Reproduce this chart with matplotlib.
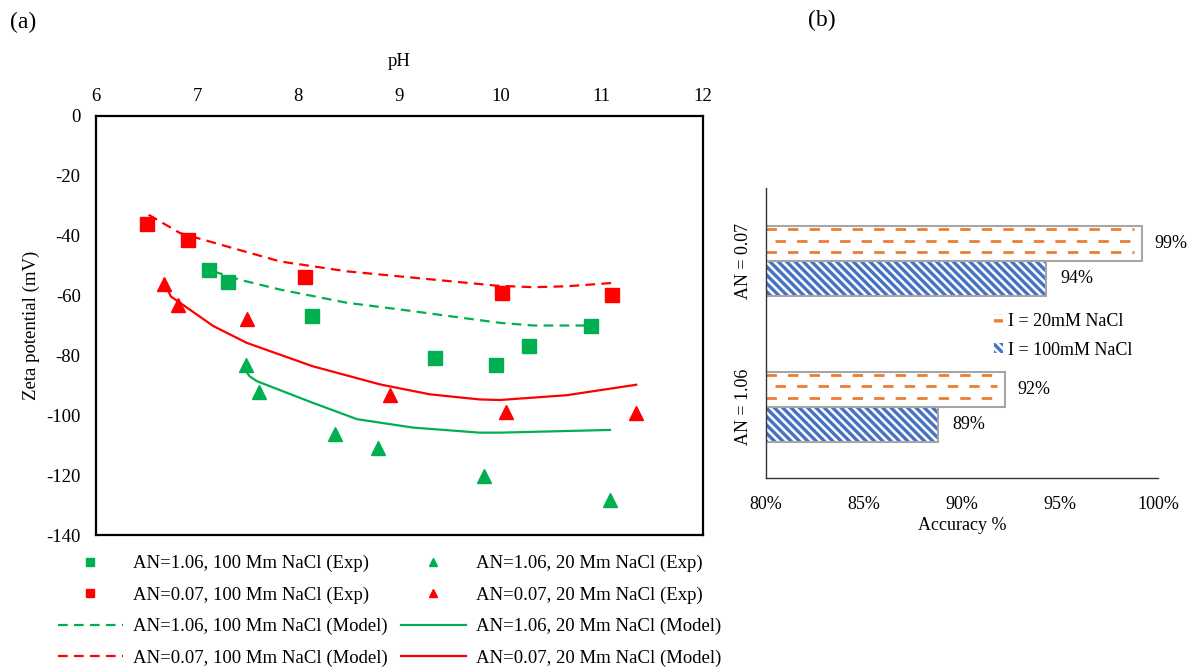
import matplotlib
matplotlib.use("Agg")
import matplotlib.pyplot as plt
from matplotlib.patches import Patch
from matplotlib.ticker import FuncFormatter

plt.rcParams['font.family'] = ['Liberation Serif', 'DejaVu Serif']
plt.rcParams['lines.scale_dashes'] = False
plt.rcParams['hatch.linewidth'] = 2.4
plt.rcParams['axes.unicode_minus'] = False

GREEN = "#00B050"
RED = "#FF0000"
BLUE = "#4472C4"
ORANGE = "#ED7D31"
GREY = "#A6A6A6"

# (a) experimental zeta potentials
ph_g100 = [7.12, 7.30, 8.14, 9.35, 9.95, 10.28, 10.89]
zp_g100 = [-51.6, -55.6, -66.9, -81.0, -83.2, -76.7, -70.2]
ph_r100 = [6.50, 6.91, 8.07, 10.01, 11.10]
zp_r100 = [-36.0, -41.3, -53.9, -59.1, -59.9]
ph_g20 = [7.48, 7.61, 8.36, 8.79, 9.84, 11.08]
zp_g20 = [-83.2, -92.2, -106.1, -110.8, -120.4, -128.2]
ph_r20 = [6.67, 6.81, 7.49, 8.91, 10.05, 11.34]
zp_r20 = [-56.1, -63.1, -67.8, -93.3, -98.8, -99.1]

# (a) model curves
ph_g100_m = [7.16, 7.42, 7.82, 8.48, 9.13, 9.50, 9.99, 10.32, 10.81, 10.87]
zp_g100_m = [-51.9, -54.7, -58.0, -62.4, -65.2, -66.9, -69.1, -70.0, -70.0, -70.0]
ph_r100_m = [6.52, 6.83, 7.16, 7.82, 8.48, 9.13, 9.96, 10.32, 10.65, 11.10]
zp_r100_m = [-33.0, -39.1, -42.3, -48.6, -51.9, -54.0, -56.7, -57.2, -56.9, -55.8]
ph_g20_m = [7.47, 7.52, 7.59, 8.14, 8.58, 9.13, 9.79, 9.99, 11.08]
zp_g20_m = [-84.7, -87.0, -88.6, -95.8, -101.3, -104.1, -105.8, -105.8, -104.9]
ph_r20_m = [6.70, 6.74, 6.83, 7.16, 7.49, 8.14, 8.81, 9.30, 9.79, 9.99, 10.65, 11.34]
zp_r20_m = [-57.4, -60.3, -62.4, -70.2, -75.8, -83.6, -89.7, -93.0, -94.7, -94.9, -93.3, -89.8]

# (b) accuracy
groups = ["AN = 1.06", "AN = 0.07"]
acc_20mM = [92.2, 99.2]
acc_100mM = [88.8, 94.3]

FS = 13.5

fig = plt.figure(figsize=(11.93, 6.70), dpi=100)

# ---------- (a) ----------
ax = fig.add_axes([96 / 1193, 1 - 535 / 670, 607 / 1193, 419 / 670])
dash = (0, (7, 4.5))
l1, = ax.plot(ph_g100_m, zp_g100_m, color=GREEN, lw=1.6, linestyle=dash)
l2, = ax.plot(ph_r100_m, zp_r100_m, color=RED, lw=1.6, linestyle=dash)
l3, = ax.plot(ph_g20_m, zp_g20_m, color=GREEN, lw=1.6)
l4, = ax.plot(ph_r20_m, zp_r20_m, color=RED, lw=1.6)
s1, = ax.plot(ph_g100, zp_g100, 's', color=GREEN, ms=10, ls='none')
s2, = ax.plot(ph_r100, zp_r100, 's', color=RED, ms=10, ls='none')
t1, = ax.plot(ph_g20, zp_g20, '^', color=GREEN, ms=9.5, ls='none')
t2, = ax.plot(ph_r20, zp_r20, '^', color=RED, ms=9.5, ls='none')

ax.set_xlim(6, 12)
ax.set_ylim(-140, 0)
ax.set_yticks(range(-140, 1, 20))
ax.xaxis.tick_top()
ax.xaxis.set_label_position('top')
ax.tick_params(length=0, labelsize=FS)
ax.tick_params(axis='y', pad=11)
ax.tick_params(axis='x', pad=8)
ax.set_xlabel("pH", fontsize=FS, labelpad=16)
ax.set_ylabel("Zeta potential (mV)", fontsize=FS)
ax.yaxis.set_label_coords(-0.092, 0.5)
for sp in ax.spines.values():
    sp.set_linewidth(1.6)
    sp.set_color('black')

handles = [s1, s2, l1, l2, t1, t2, l3, l4]
labels = ["AN=1.06, 100 Mm NaCl (Exp)", "AN=0.07, 100 Mm NaCl (Exp)",
          "AN=1.06, 100 Mm NaCl (Model)", "AN=0.07, 100 Mm NaCl (Model)",
          "AN=1.06, 20 Mm NaCl (Exp)", "AN=0.07, 20 Mm NaCl (Exp)",
          "AN=1.06, 20 Mm NaCl (Model)", "AN=0.07, 20 Mm NaCl (Model)"]
fig.legend(handles, labels, ncol=2, loc='upper left',
           bbox_to_anchor=(58 / 1193, 1 - 555 / 670), frameon=False,
           fontsize=FS, handlelength=3.45, handletextpad=0.55,
           columnspacing=0.7, labelspacing=0.76, markerscale=0.6,
           borderpad=0, borderaxespad=0)

fig.text(10 / 1193, 1 - 22 / 670, "(a)", fontsize=17, va='center')
fig.text(808 / 1193, 1 - 20 / 670, "(b)", fontsize=17, va='center')

# ---------- (b) ----------
ax2 = fig.add_axes([766 / 1193, 1 - 478 / 670, 392 / 1193, 290 / 670])
ypos = list(range(len(groups)))
h = 0.24
y20 = [y + h / 2 for y in ypos]
y100 = [y - h / 2 for y in ypos]

b20 = ax2.barh(y20, acc_20mM, height=h, color='white', edgecolor=GREY, lw=1.5)
b100 = ax2.barh(y100, acc_100mM, height=h, color='white', edgecolor=BLUE,
                hatch='\\\\\\\\', lw=0)
ax2.barh(y100, acc_100mM, height=h, fill=False, edgecolor=GREY, lw=1.5)

# orange dashes inside the 20 mM bars
for bar in b20:
    y0, bh = bar.get_y(), bar.get_height()
    x1 = bar.get_x() + bar.get_width()
    for frac, off in [(0.25, 0), (0.58, 9), (0.9, 0)]:
        ax2.hlines(y0 + frac * bh, 80, x1 - 0.4, colors=ORANGE, lw=2,
                   linestyles=[(off, (7.5, 8))])

for v, y in zip(acc_20mM, y20):
    ax2.annotate(f"{v:.0f}%", (v, y), xytext=(12, 0), textcoords='offset pixels',
                 va='center', ha='left', fontsize=FS - 0.5)
for v, y in zip(acc_100mM, y100):
    ax2.annotate(f"{v:.0f}%", (v, y), xytext=(14, 0), textcoords='offset pixels',
                 va='center', ha='left', fontsize=FS - 0.5)

ax2.set_xlim(80, 100)
ax2.set_ylim(-0.49, 1.5)
ax2.set_xticks([80, 85, 90, 95, 100])
ax2.xaxis.set_major_formatter(FuncFormatter(lambda v, p: f"{v:.0f}%"))
ax2.set_yticks(ypos, groups, rotation=90, va='center')
ax2.tick_params(length=0, labelsize=FS - 0.5)
ax2.tick_params(axis='x', pad=13)
ax2.tick_params(axis='y', pad=10)
ax2.set_xlabel("Accuracy %", fontsize=FS - 0.5, labelpad=3)
ax2.spines['top'].set_visible(False)
ax2.spines['right'].set_visible(False)
for side in ['left', 'bottom']:
    ax2.spines[side].set_linewidth(1.0)
    ax2.spines[side].set_color('#333333')

leg_handles = [Patch(facecolor='white', edgecolor=ORANGE, hatch='--', lw=0),
               Patch(facecolor='white', edgecolor=BLUE, hatch='\\\\\\\\', lw=0)]
ax2.legend(leg_handles, ["I = 20mM NaCl", "I = 100mM NaCl"], loc='upper left',
           bbox_to_anchor=(994 / 1193, 1 - 313 / 670), bbox_transform=fig.transFigure,
           frameon=False, fontsize=FS - 0.5, handlelength=0.5, handleheight=0.5,
           handletextpad=0.3, labelspacing=0.65, borderpad=0, borderaxespad=0)

fig.savefig("out.png", dpi=100)
